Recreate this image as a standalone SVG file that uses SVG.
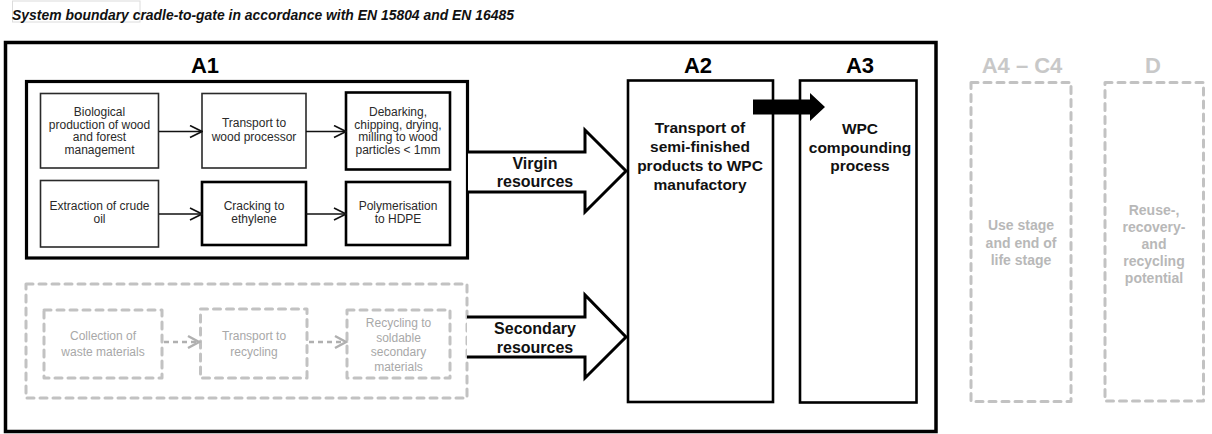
<svg xmlns="http://www.w3.org/2000/svg" width="1212" height="434" viewBox="0 0 1212 434">
<style>
text{font-family:"Liberation Sans",Arial,sans-serif;text-anchor:middle}
.title{font-size:15px;font-weight:bold;font-style:italic;text-anchor:start;fill:#111}
.lbl{font-size:22px;font-weight:bold;fill:#000}
.glbl{font-size:22px;font-weight:bold;fill:#c8c8c8}
.t{font-size:12px;fill:#2a2a2a}
.gt{font-size:12px;fill:#a8a8a8}
.bt{font-size:15.5px;font-weight:bold;fill:#111}
.rt{font-size:16px;font-weight:bold;fill:#111}
.gb{font-size:14px;font-weight:bold;fill:#b8b8b8}
.box{fill:#fff;stroke:#2a2a2a;stroke-width:1.6}
.boxk{fill:#fff;stroke:#000;stroke-width:2.6}
.dash{fill:none;stroke:#c2c2c2;stroke-width:3;stroke-dasharray:7 6;stroke-linecap:round;stroke-linejoin:round}
.ln{fill:none;stroke:#111;stroke-width:1.6}
.gln{fill:none;stroke:#b0b0b0;stroke-width:2.5;stroke-dasharray:5 4}
.ghead{fill:none;stroke:#b0b0b0;stroke-width:2.5}
.blk{fill:#fff;stroke:#000;stroke-width:3;stroke-linejoin:miter}
</style>
<defs>
<marker id="chev" viewBox="0 0 14 14" refX="13" refY="7" markerWidth="14" markerHeight="14" markerUnits="userSpaceOnUse" orient="auto">
<path d="M1,1 L13,7 L1,13" fill="none" stroke="#111" stroke-width="1.6"/>
</marker>
</defs>
<rect width="1212" height="434" fill="#fff"/>
<g id="title">
<rect x="12.5" y="1" width="127.5" height="21" fill="none" stroke="#dcdcdc" stroke-width="1"/>
<text class="title" x="12" y="19.5" textLength="502" lengthAdjust="spacingAndGlyphs">System boundary cradle-to-gate in accordance with EN 15804 and EN 16485</text>
</g>
<g id="boundary">
<rect x="5.5" y="42.5" width="930.5" height="389" fill="none" stroke="#000" stroke-width="3.5"/>
</g>
<g id="A1">
<rect x="26.5" y="81.5" width="441" height="176.5" fill="none" stroke="#000" stroke-width="3.2"/>
<text class="lbl" x="205" y="73">A1</text>
</g>
<g id="bio">
<rect class="box" x="40.5" y="93.5" width="118" height="74.5"/>
<text class="t" x="99.5" y="116">Biological</text>
<text class="t" x="99.5" y="128.5">production of wood</text>
<text class="t" x="99.5" y="141">and forest</text>
<text class="t" x="99.5" y="153.5">management</text>
</g>
<g id="transport-wood">
<rect class="box" x="202" y="93.5" width="104" height="74.5"/>
<text class="t" x="254" y="127">Transport to</text>
<text class="t" x="254" y="140.5">wood processor</text>
</g>
<g id="debarking">
<rect class="boxk" x="346" y="92.5" width="104" height="77"/>
<text class="t" x="398" y="116">Debarking,</text>
<text class="t" x="398" y="128.5">chipping, drying,</text>
<text class="t" x="398" y="141">milling to wood</text>
<text class="t" x="398" y="153.5">particles &lt; 1mm</text>
</g>
<g id="crude">
<rect class="box" x="40.5" y="180.5" width="118" height="66.5"/>
<text class="t" x="99.5" y="210">Extraction of crude</text>
<text class="t" x="99.5" y="223">oil</text>
</g>
<g id="cracking">
<rect class="boxk" x="202" y="182" width="104" height="63"/>
<text class="t" x="254" y="210">Cracking to</text>
<text class="t" x="254" y="223">ethylene</text>
</g>
<g id="polymer">
<rect class="boxk" x="346" y="182" width="104" height="63"/>
<text class="t" x="398" y="210">Polymerisation</text>
<text class="t" x="398" y="223">to HDPE</text>
</g>
<g id="secondary-group">
<rect class="dash" x="26" y="284" width="441" height="114"/>
</g>
<g id="collection">
<rect class="dash" x="44" y="310" width="118" height="68"/>
<text class="gt" x="103" y="340">Collection of</text>
<text class="gt" x="103" y="356">waste materials</text>
</g>
<g id="transport-recycling">
<rect class="dash" x="200.5" y="309" width="106.5" height="69"/>
<text class="gt" x="254" y="340">Transport to</text>
<text class="gt" x="254" y="356">recycling</text>
</g>
<g id="recycling">
<rect class="dash" x="347" y="310" width="103" height="68"/>
<text class="gt" x="398.5" y="327">Recycling to</text>
<text class="gt" x="398.5" y="341.5">soldable</text>
<text class="gt" x="398.5" y="356">secondary</text>
<text class="gt" x="398.5" y="371">materials</text>
</g>
<g id="A2">
<rect x="628" y="80.5" width="145" height="321.5" fill="#fff" stroke="#000" stroke-width="2.6"/>
<text class="lbl" x="698" y="73">A2</text>
<text class="bt" x="700" y="133">Transport of</text>
<text class="bt" x="700" y="152">semi-finished</text>
<text class="bt" x="700" y="171">products to WPC</text>
<text class="bt" x="700" y="189.5">manufactory</text>
</g>
<g id="A3">
<rect x="800" y="80.5" width="116.5" height="322" fill="#fff" stroke="#000" stroke-width="2.6"/>
<text class="lbl" x="860" y="73">A3</text>
<text class="bt" x="860" y="134">WPC</text>
<text class="bt" x="860" y="152.5">compounding</text>
<text class="bt" x="860" y="171">process</text>
</g>
<g id="A4-C4">
<text class="glbl" x="1022" y="73">A4 – C4</text>
<rect class="dash" x="971" y="82.5" width="100" height="319"/>
<text class="gb" x="1021" y="230">Use stage</text>
<text class="gb" x="1021" y="247.5">and end of</text>
<text class="gb" x="1021" y="265">life stage</text>
</g>
<g id="D">
<text class="glbl" x="1153" y="73">D</text>
<rect class="dash" x="1105" y="82.5" width="98.5" height="318.5"/>
<text class="gb" x="1154" y="215">Reuse-,</text>
<text class="gb" x="1154" y="232">recovery-</text>
<text class="gb" x="1154" y="249">and</text>
<text class="gb" x="1154" y="266">recycling</text>
<text class="gb" x="1154" y="283">potential</text>
</g>
<g id="connectors">
<line class="ln" x1="159" y1="131.5" x2="202" y2="131.5" marker-end="url(#chev)"/>
<line class="ln" x1="306" y1="131.5" x2="346" y2="131.5" marker-end="url(#chev)"/>
<line class="ln" x1="159" y1="214" x2="202" y2="214" marker-end="url(#chev)"/>
<line class="ln" x1="306" y1="214" x2="346" y2="214" marker-end="url(#chev)"/>
<line class="gln" x1="164" y1="342" x2="196" y2="342"/>
<path class="ghead" d="M188,336 L199,342 L188,348"/>
<line class="gln" x1="309" y1="342" x2="343" y2="342"/>
<path class="ghead" d="M335,336 L346,342 L335,348"/>
<path class="blk" d="M468,152 H585 V130 L626,171 L585,212 V192 H468"/>
<text class="rt" x="535" y="168.5">Virgin</text>
<text class="rt" x="535" y="187">resources</text>
<path class="blk" d="M467,317 H585 V295 L626,337 L585,378 V357 H467"/>
<text class="rt" x="535" y="334">Secondary</text>
<text class="rt" x="535" y="353">resources</text>
<path d="M753,99.5 H810 V93 L825,107 L810,121 V114.5 H753 Z" fill="#000"/>
</g>
</svg>
